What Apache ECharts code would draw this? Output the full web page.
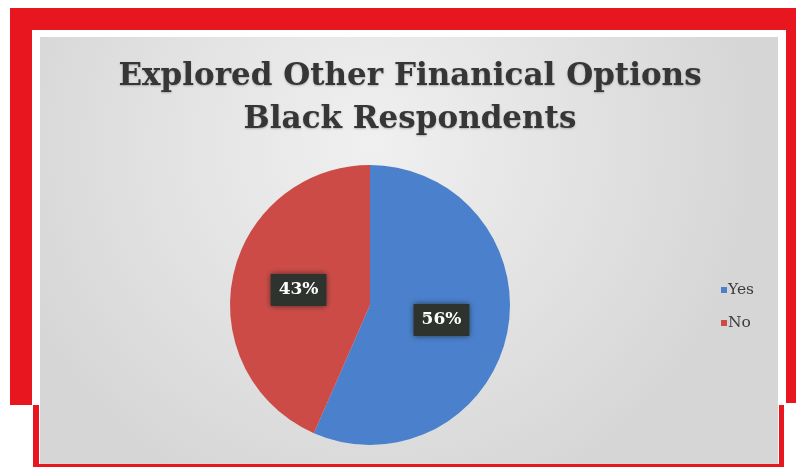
<!DOCTYPE html>
<html>
<head>
<meta charset="utf-8">
<style>
  html, body { margin: 0; padding: 0; background: #ffffff; }
  #chart { width: 796px; height: 467px; }
</style>
<script src="https://cdn.jsdelivr.net/npm/echarts@6/dist/echarts.min.js"></script>
</head>
<body>
<div id="chart"></div>
<script>
// Survey answers and their shares (percent)
const categories = ['Yes', 'No'];
const shares = [56, 43];
const sliceColors = ['#4a80cc', '#cc4b47'];
const titleLines = ['Explored Other Finanical Options', 'Black Respondents'];

const chart = echarts.init(document.getElementById('chart'), null, { renderer: 'canvas' });

const red = '#e8161f';

chart.setOption({
  backgroundColor: '#ffffff',
  animation: false,
  graphic: [
    // outer red frame
    { type: 'rect', z: 0, shape: { x: 10, y: 8, width: 786, height: 22 }, style: { fill: red } },
    { type: 'rect', z: 0, shape: { x: 10, y: 8, width: 22, height: 397 }, style: { fill: red } },
    { type: 'rect', z: 0, shape: { x: 786, y: 8, width: 10, height: 395 }, style: { fill: red } },
    { type: 'rect', z: 0, shape: { x: 33, y: 405, width: 6, height: 62 }, style: { fill: red } },
    { type: 'rect', z: 0, shape: { x: 779, y: 405, width: 5, height: 62 }, style: { fill: red } },
    { type: 'rect', z: 0, shape: { x: 33, y: 464, width: 751, height: 3 }, style: { fill: red } },
    // chart panel
    {
      type: 'rect', z: 1,
      shape: { x: 40, y: 37, width: 738, height: 427 },
      style: {
        fill: new echarts.graphic.RadialGradient(0.45, 0.25, 0.9, [
          { offset: 0, color: '#f0f0f0' },
          { offset: 0.55, color: '#e2e2e2' },
          { offset: 1, color: '#d6d6d6' }
        ])
      }
    }
  ],
  title: {
    text: titleLines.join('\n'),
    left: 405,
    textAlign: 'center',
    top: 50,
    textStyle: {
      fontFamily: 'DejaVu Serif',
      fontWeight: 'bold',
      fontSize: 31,
      lineHeight: 43,
      color: '#363636',
      textShadowColor: 'rgba(0,0,0,0.25)',
      textShadowBlur: 2,
      textShadowOffsetY: 1
    }
  },
  legend: {
    orient: 'vertical',
    left: 716,
    top: 277,
    itemWidth: 6,
    itemHeight: 6,
    itemGap: 17,
    icon: 'rect',
    data: categories,
    textStyle: { fontFamily: 'DejaVu Serif', fontSize: 15.5, color: '#3c3c3c', padding: [0, 0, 0, -4] }
  },
  series: [{
    type: 'pie',
    center: [370, 305],
    radius: 140,
    startAngle: 90,
    clockwise: true,
    silent: true,
    z: 3,
    label: {
      show: true,
      position: 'inside',
      formatter: '{c}%',
      fontFamily: 'DejaVu Serif',
      fontWeight: 'bold',
      fontSize: 17,
      color: '#ffffff',
      backgroundColor: '#2e332d',
      padding: [8, 8, 7, 8],
      shadowColor: 'rgba(20,25,20,0.7)',
      shadowBlur: 6
    },
    labelLine: { show: false },
    data: categories.map((name, i) => ({
      name: name,
      value: shares[i],
      itemStyle: { color: sliceColors[i] }
    }))
  }]
});
</script>
</body>
</html>
